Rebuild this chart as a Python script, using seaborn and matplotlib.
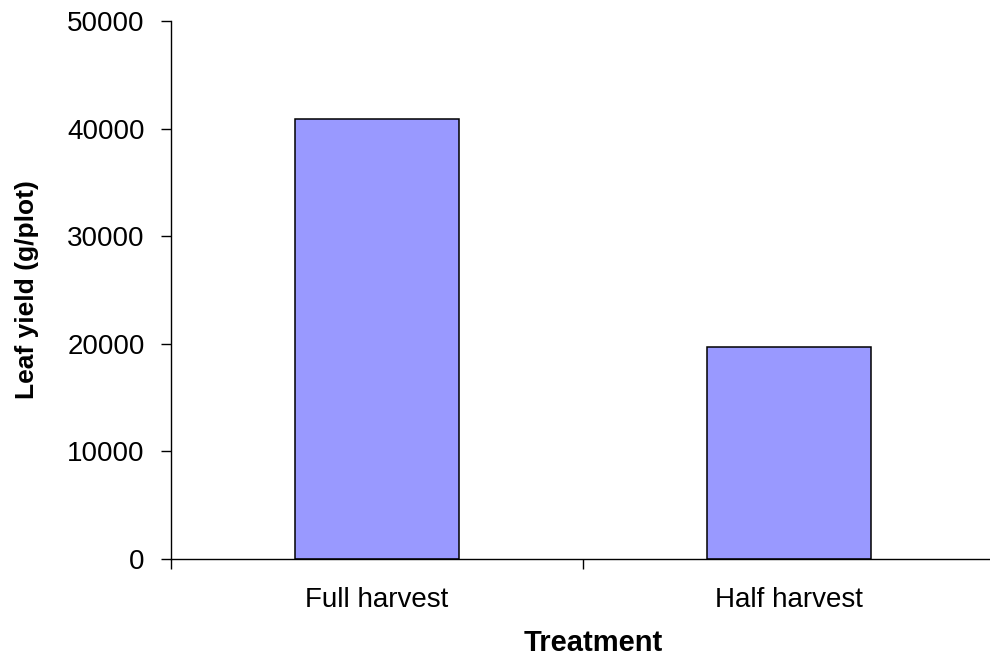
import matplotlib
matplotlib.use("Agg")
import matplotlib.pyplot as plt
import seaborn as sns
import pandas as pd

# Leaf yield per plot under each harvest treatment
treatments = ["Full harvest", "Half harvest"]
leaf_yield = [40900, 19700]
y_ticks = [0, 10000, 20000, 30000, 40000, 50000]

df = pd.DataFrame({"Treatment": treatments, "Leaf yield (g/plot)": leaf_yield})

sns.set_style("ticks")
plt.rcParams["font.family"] = ["Liberation Sans", "DejaVu Sans"]
for key in ["text.color", "axes.labelcolor", "xtick.color", "ytick.color",
            "xtick.labelcolor", "ytick.labelcolor"]:
    plt.rcParams[key] = "black"

fig = plt.figure(figsize=(9.9, 6.55), dpi=100)
ax = fig.add_axes([171 / 990, 1 - 559 / 655, 824 / 990, 538 / 655])

sns.barplot(data=df, x="Treatment", y="Leaf yield (g/plot)", color="#9999FF",
            saturation=1, width=0.4, edgecolor="black", linewidth=1.1, ax=ax)

ax.set_ylim(0, 50000)
ax.set_xlim(-0.5, 1.5)
ax.set_yticks(y_ticks)
ax.set_yticklabels([str(v) for v in y_ticks])

# category labels sit between the boundary ticks
ax.set_xticks([-0.5, 0.5, 1.5])
ax.set_xticklabels([])
ax.set_xticks([0, 1], minor=True)
ax.set_xticklabels(treatments, minor=True)
ax.tick_params(axis="x", which="minor", length=0, pad=20, labelsize=20)
ax.tick_params(axis="x", which="major", length=7, width=1, direction="out")
ax.tick_params(axis="y", length=7, width=1, direction="out", pad=12, labelsize=20)

for s in ["top", "right"]:
    ax.spines[s].set_visible(False)
for s in ["left", "bottom"]:
    ax.spines[s].set_color("black")
    ax.spines[s].set_linewidth(1)

ax.set_xlabel("Treatment", fontsize=21, fontweight="bold")
ax.xaxis.set_label_coords(0.513, -0.13)
ax.set_ylabel("Leaf yield (g/plot)", fontsize=19, fontweight="bold", va="center")
ax.yaxis.set_label_coords(-0.175, 0.5)

fig.savefig("out.png", dpi=100)
